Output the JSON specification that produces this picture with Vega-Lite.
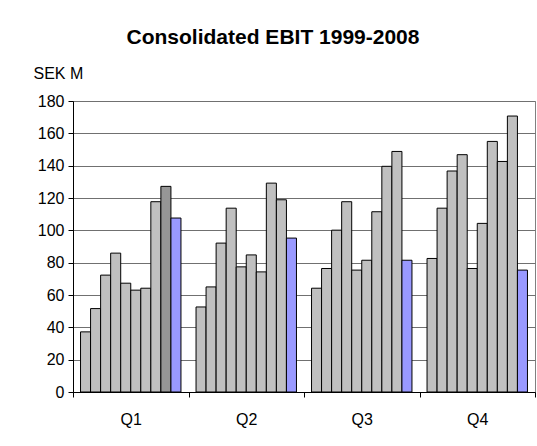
{
  "$schema": "https://vega.github.io/schema/vega-lite/v6.json",
  "autosize": {"type": "none"},
  "width": 462,
  "height": 291,
  "padding": {"left": 73, "top": 101, "right": 2, "bottom": 54},
  "background": "white",
  "title": {
    "text": "Consolidated EBIT 1999-2008",
    "font": "Liberation Sans",
    "fontSize": 21,
    "fontWeight": "bold",
    "color": "black",
    "anchor": "middle",
    "frame": "group",
    "dx": -31,
    "offset": 17
  },
  "data": {
    "values": [
      {"q": "Q1", "year": "1999", "value": 37.2},
      {"q": "Q1", "year": "2000", "value": 51.6},
      {"q": "Q1", "year": "2001", "value": 72.3},
      {"q": "Q1", "year": "2002", "value": 85.9},
      {"q": "Q1", "year": "2003", "value": 67.3},
      {"q": "Q1", "year": "2004", "value": 63.0},
      {"q": "Q1", "year": "2005", "value": 64.2},
      {"q": "Q1", "year": "2006", "value": 117.7},
      {"q": "Q1", "year": "2007", "value": 127.2},
      {"q": "Q1", "year": "2008", "value": 107.6},
      {"q": "Q2", "year": "1999", "value": 52.6},
      {"q": "Q2", "year": "2000", "value": 65.0},
      {"q": "Q2", "year": "2001", "value": 92.1},
      {"q": "Q2", "year": "2002", "value": 113.7},
      {"q": "Q2", "year": "2003", "value": 77.4},
      {"q": "Q2", "year": "2004", "value": 84.8},
      {"q": "Q2", "year": "2005", "value": 74.3},
      {"q": "Q2", "year": "2006", "value": 129.2},
      {"q": "Q2", "year": "2007", "value": 118.9},
      {"q": "Q2", "year": "2008", "value": 95.2},
      {"q": "Q3", "year": "1999", "value": 64.2},
      {"q": "Q3", "year": "2000", "value": 76.4},
      {"q": "Q3", "year": "2001", "value": 100.1},
      {"q": "Q3", "year": "2002", "value": 117.7},
      {"q": "Q3", "year": "2003", "value": 75.4},
      {"q": "Q3", "year": "2004", "value": 81.5},
      {"q": "Q3", "year": "2005", "value": 111.5},
      {"q": "Q3", "year": "2006", "value": 139.6},
      {"q": "Q3", "year": "2007", "value": 148.8},
      {"q": "Q3", "year": "2008", "value": 81.5},
      {"q": "Q4", "year": "1999", "value": 82.6},
      {"q": "Q4", "year": "2000", "value": 113.7},
      {"q": "Q4", "year": "2001", "value": 136.7},
      {"q": "Q4", "year": "2002", "value": 146.8},
      {"q": "Q4", "year": "2003", "value": 76.4},
      {"q": "Q4", "year": "2004", "value": 104.3},
      {"q": "Q4", "year": "2005", "value": 155.0},
      {"q": "Q4", "year": "2006", "value": 142.6},
      {"q": "Q4", "year": "2007", "value": 170.7},
      {"q": "Q4", "year": "2008", "value": 75.4}
    ]
  },
  "mark": {"type": "bar", "stroke": "black", "strokeWidth": 1},
  "encoding": {
    "x": {
      "field": "q",
      "type": "nominal",
      "scale": {"paddingInner": 0, "paddingOuter": 0},
      "axis": {
        "title": null,
        "labelAngle": 0,
        "tickBand": "extent",
        "domainColor": "black",
        "tickColor": "black",
        "tickSize": 5,
        "labelFont": "Liberation Sans",
        "labelFontSize": 16,
        "labelColor": "black",
        "labelPadding": 14
      }
    },
    "xOffset": {
      "field": "year",
      "type": "nominal",
      "scale": {"paddingInner": 0, "paddingOuter": 0.75}
    },
    "y": {
      "field": "value",
      "type": "quantitative",
      "scale": {"domain": [0, 180], "nice": false},
      "axis": {
        "values": [0, 20, 40, 60, 80, 100, 120, 140, 160, 180],
        "title": "SEK M",
        "titleAngle": 0,
        "titleAlign": "left",
        "titleBaseline": "alphabetic",
        "titleX": -40,
        "titleY": -23,
        "titleFont": "Liberation Sans",
        "titleFontSize": 16,
        "titleFontWeight": "normal",
        "titleColor": "black",
        "domainColor": "black",
        "tickColor": "black",
        "tickSize": 5,
        "gridColor": "#707070",
        "gridOpacity": 1,
        "labelFont": "Liberation Sans",
        "labelFontSize": 16,
        "labelColor": "black",
        "labelPadding": 4
      }
    },
    "fill": {
      "condition": [
        {"test": "datum.year === '2008'", "value": "#9999FF"},
        {"test": "datum.year === '2007' && datum.q === 'Q1'", "value": "#969696"}
      ],
      "value": "#C0C0C0"
    }
  },
  "config": {
    "view": {"stroke": "#808080", "strokeWidth": 1}
  }
}
